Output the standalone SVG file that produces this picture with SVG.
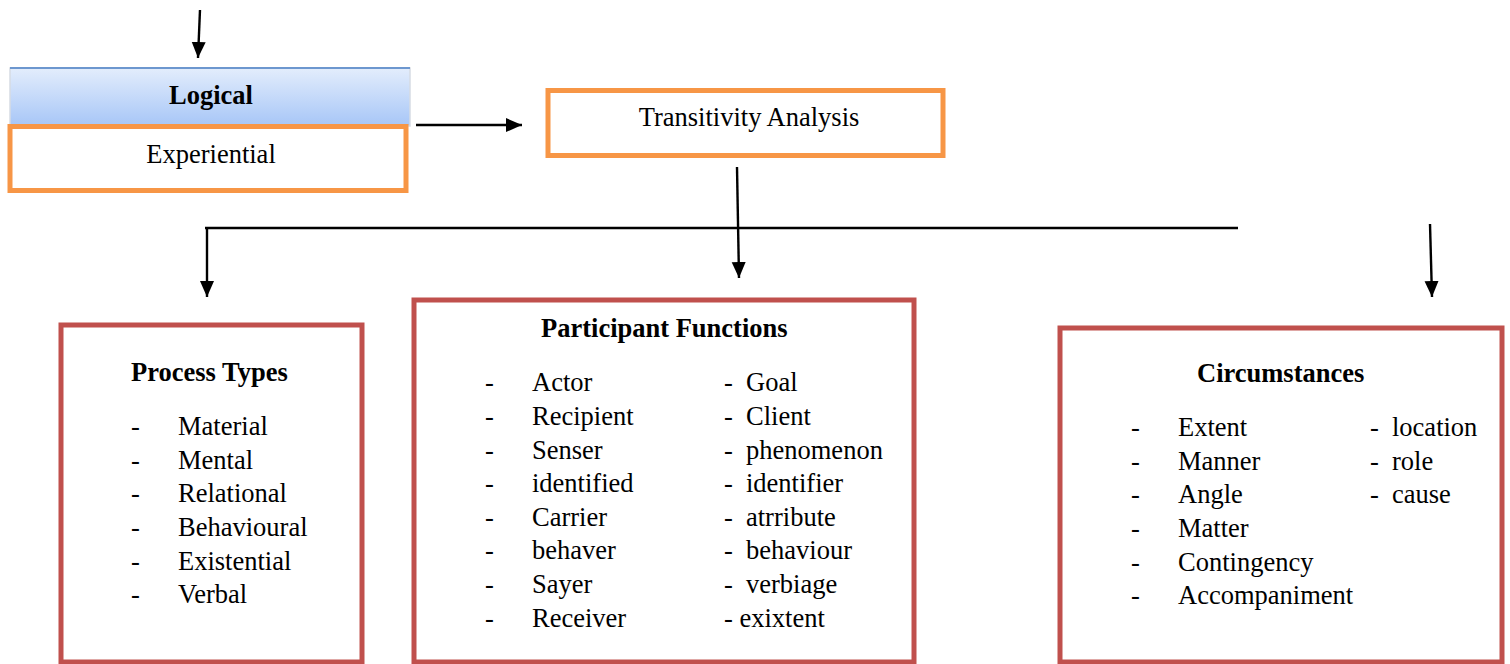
<svg xmlns="http://www.w3.org/2000/svg" width="1510" height="664" viewBox="0 0 1510 664">
<defs>
<linearGradient id="blueGrad" x1="0" y1="0" x2="0" y2="1">
<stop offset="0" stop-color="#e3edfc"/>
<stop offset="1" stop-color="#a7c6f7"/>
</linearGradient>
<marker id="arrow" markerUnits="userSpaceOnUse" markerWidth="16" markerHeight="16" viewBox="0 0 16 16" refX="16" refY="8" orient="auto">
<path d="M0,1 L16,8 L0,15 Z" fill="#000"/>
</marker>
</defs>
<style>
text { font-family: "Liberation Serif", "Times New Roman", serif; font-size: 26.5px; fill: #000; }
.b { font-weight: bold; }
.c { text-anchor: middle; }
.orange { fill: #fff; stroke: #f79646; stroke-width: 5; }
.red { fill: #fff; stroke: #c0504d; stroke-width: 5; }
.conn { stroke: #000; stroke-width: 2.4; fill: none; }
</style>
<rect width="1510" height="664" fill="#fff"/>
<g id="connectors">
<line class="conn" x1="200" y1="10" x2="198" y2="58" marker-end="url(#arrow)"/>
<line class="conn" x1="416" y1="125" x2="522" y2="125" marker-end="url(#arrow)"/>
<line class="conn" x1="737" y1="167" x2="739" y2="278" marker-end="url(#arrow)"/>
<line class="conn" x1="205" y1="228" x2="1238" y2="228"/>
<line class="conn" x1="207" y1="228" x2="207" y2="297" marker-end="url(#arrow)"/>
<line class="conn" x1="1430" y1="224" x2="1432" y2="297" marker-end="url(#arrow)"/>
</g>
<g id="logical">
<rect x="10" y="68" width="400" height="58" fill="url(#blueGrad)" stroke="#d6dbe3" stroke-width="1.5"/>
<line x1="10" y1="68" x2="410" y2="68" stroke="#6d97cf" stroke-width="2"/>
<text class="b c" x="211" y="104">Logical</text>
</g>
<g id="experiential">
<rect class="orange" x="10" y="126.5" width="396" height="64"/>
<text class="c" x="211" y="163">Experiential</text>
</g>
<g id="transitivity">
<rect class="orange" x="548" y="90.5" width="395" height="65"/>
<text class="c" x="749" y="126">Transitivity Analysis</text>
</g>
<g id="process-types">
<rect class="red" x="61" y="325" width="301" height="337"/>
<text class="b" x="131" y="381">Process Types</text>
<text x="131" y="435">-</text><text x="178" y="435">Material</text>
<text x="131" y="469">-</text><text x="178" y="469">Mental</text>
<text x="131" y="502">-</text><text x="178" y="502">Relational</text>
<text x="131" y="536">-</text><text x="178" y="536">Behavioural</text>
<text x="131" y="570">-</text><text x="178" y="570">Existential</text>
<text x="131" y="603">-</text><text x="178" y="603">Verbal</text>
</g>
<g id="participant-functions">
<rect class="red" x="414" y="300" width="500" height="362"/>
<text class="b" x="541" y="337">Participant Functions</text>
<text x="485" y="391">-</text><text x="532" y="391">Actor</text>
<text x="485" y="425">-</text><text x="532" y="425">Recipient</text>
<text x="485" y="459">-</text><text x="532" y="459">Senser</text>
<text x="485" y="492">-</text><text x="532" y="492">identified</text>
<text x="485" y="526">-</text><text x="532" y="526">Carrier</text>
<text x="485" y="559">-</text><text x="532" y="559">behaver</text>
<text x="485" y="593">-</text><text x="532" y="593">Sayer</text>
<text x="485" y="627">-</text><text x="532" y="627">Receiver</text>
<text x="724" y="391">-</text><text x="746" y="391">Goal</text>
<text x="724" y="425">-</text><text x="746" y="425">Client</text>
<text x="724" y="459">-</text><text x="746" y="459">phenomenon</text>
<text x="724" y="492">-</text><text x="746" y="492">identifier</text>
<text x="724" y="526">-</text><text x="746" y="526">atrribute</text>
<text x="724" y="559">-</text><text x="746" y="559">behaviour</text>
<text x="724" y="593">-</text><text x="746" y="593">verbiage</text>
<text x="724" y="627">- exixtent</text>
</g>
<g id="circumstances">
<rect class="red" x="1060" y="328" width="442" height="334"/>
<text class="b" x="1197" y="382">Circumstances</text>
<text x="1131" y="436">-</text><text x="1178" y="436">Extent</text>
<text x="1131" y="470">-</text><text x="1178" y="470">Manner</text>
<text x="1131" y="503">-</text><text x="1178" y="503">Angle</text>
<text x="1131" y="537">-</text><text x="1178" y="537">Matter</text>
<text x="1131" y="571">-</text><text x="1178" y="571">Contingency</text>
<text x="1131" y="604">-</text><text x="1178" y="604">Accompaniment</text>
<text x="1370" y="436">-</text><text x="1392" y="436">location</text>
<text x="1370" y="470">-</text><text x="1392" y="470">role</text>
<text x="1370" y="503">-</text><text x="1392" y="503">cause</text>
</g>
</svg>
